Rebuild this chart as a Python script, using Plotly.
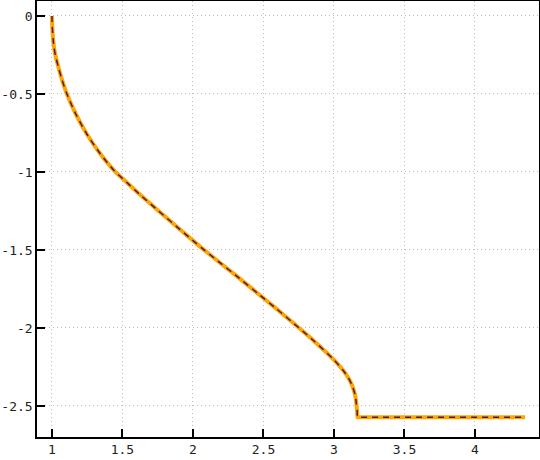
import plotly.graph_objects as go

x_vals = [1.0, 1.002, 1.005, 1.009, 1.014, 1.025, 1.045, 1.07, 1.104, 1.17, 1.246, 1.34,
          1.44, 1.54, 1.624, 1.75, 1.884, 2.0, 2.07, 2.2, 2.3, 2.475, 2.58, 2.72, 2.86,
          3.0, 3.08, 3.125, 3.15, 3.158, 3.164, 3.168, 3.18, 4.355]
y_vals = [0.0, -0.06, -0.11, -0.155, -0.197, -0.255, -0.325, -0.405, -0.495, -0.63, -0.755, -0.88,
          -0.99, -1.075, -1.145, -1.245, -1.35, -1.44, -1.493, -1.588, -1.66, -1.79, -1.868, -1.975, -2.085,
          -2.205, -2.29, -2.36, -2.43, -2.48, -2.53, -2.572, -2.572, -2.572]

x_ticks = [1, 1.5, 2, 2.5, 3, 3.5, 4]
y_ticks = [0, -0.5, -1, -1.5, -2, -2.5]

fig = go.Figure()
fig.add_trace(go.Scatter(x=x_vals, y=y_vals, mode="lines",
                         line=dict(color="#FFA500", width=4, shape="spline", smoothing=0.8),
                         showlegend=False))
fig.add_trace(go.Scatter(x=x_vals, y=y_vals, mode="lines",
                         line=dict(color="#4b1c3c", width=1.5, dash="6px,5px",
                                   shape="spline", smoothing=0.8),
                         showlegend=False))

axis_common = dict(
    showline=True, linecolor="black", linewidth=1.5, mirror=True,
    ticks="inside", ticklen=8, tickcolor="black", tickwidth=1.5,
    showgrid=True, gridcolor="#bdbdbd", griddash="1px,3px", gridwidth=1,
    zeroline=False, automargin=False,
    tickfont=dict(family="DejaVu Sans Mono", size=13, color="#222222"),
)

fig.update_xaxes(range=[0.894, 4.454], tickvals=x_ticks,
                 ticktext=[str(v) for v in x_ticks], **axis_common)
fig.update_yaxes(range=[-2.699, 0.096], tickvals=y_ticks,
                 ticktext=[str(v) for v in y_ticks], **axis_common)

fig.update_layout(
    width=540, height=460,
    margin=dict(l=37, r=1, t=1, b=23, pad=0),
    plot_bgcolor="white", paper_bgcolor="white",
)

fig.write_html("out.html", config={"displayModeBar": False},
               post_script="document.body.style.margin='0';document.body.style.overflow='hidden';")
